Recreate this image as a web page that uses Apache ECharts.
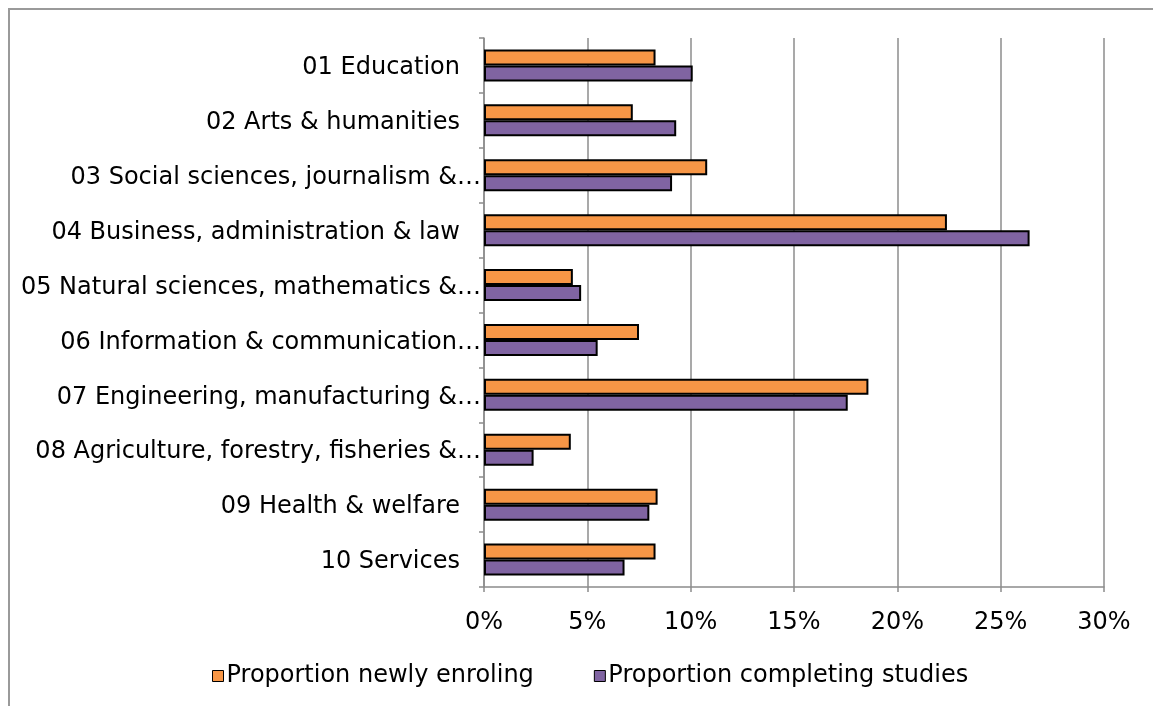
<!DOCTYPE html>
<html>
<head>
<meta charset="utf-8">
<script src="https://cdn.jsdelivr.net/npm/echarts@6/dist/echarts.min.js"></script>
<style>
html,body{margin:0;padding:0;background:#fff;}
#chart{width:1153px;height:706px;}
</style>
</head>
<body>
<div id="chart"></div>
<script>
const categories = [
  "01 Education",
  "02 Arts & humanities",
  "03 Social sciences, journalism &\u2026",
  "04 Business, administration & law",
  "05 Natural sciences, mathematics &\u2026",
  "06 Information & communication\u2026",
  "07 Engineering, manufacturing &\u2026",
  "08 Agriculture, forestry, fisheries &\u2026",
  "09 Health & welfare",
  "10 Services"
];
const newlyEnroling = [8.3, 7.2, 10.8, 22.4, 4.3, 7.5, 18.6, 4.2, 8.4, 8.3];
const completingStudies = [10.1, 9.3, 9.1, 26.4, 4.7, 5.5, 17.6, 2.4, 8.0, 6.8];
const seriesNames = ["Proportion newly enroling", "Proportion completing studies"];
const xTicks = { min: 0, max: 30, interval: 5 };

const FONT = "DejaVu Sans";
const FS = 24;
const chart = echarts.init(document.getElementById('chart'), null, { renderer: 'canvas' });
chart.setOption({
  backgroundColor: '#fff',
  animation: false,
  graphic: [{
    type: 'rect', shape: { x: 9, y: 9, width: 1200, height: 800 },
    style: { fill: 'none', stroke: '#9a9a9a', lineWidth: 2 }, silent: true, z: -1
  }],
  grid: { left: 484, top: 38, right: 49, bottom: 119, containLabel: false },
  legend: {
    data: seriesNames,
    left: 207, top: 659,
    icon: 'rect', itemWidth: 11, itemHeight: 11, itemGap: 60,
    textStyle: { fontFamily: FONT, fontSize: FS, color: '#000', padding: [0,0,0,-2] },
    itemStyle: { borderColor: '#000', borderWidth: 1 }
  },
  xAxis: {
    type: 'value', min: xTicks.min, max: xTicks.max, interval: xTicks.interval,
    axisLine: { show: true, lineStyle: { color: '#8c8c8c', width: 1.5 } },
    axisTick: { show: true, length: 5, lineStyle: { color: '#8c8c8c', width: 1.5 } },
    axisLabel: { formatter: '{value}%', fontFamily: FONT, fontSize: FS, color: '#000', margin: 24 },
    splitLine: { show: true, lineStyle: { color: '#8c8c8c', width: 1.5 } }
  },
  yAxis: {
    type: 'category', data: categories, inverse: true,
    axisLine: { show: true, lineStyle: { color: '#8c8c8c', width: 1.5 } },
    axisTick: { show: true, length: 5, lineStyle: { color: '#8c8c8c', width: 1.5 } },
    axisLabel: {
      fontFamily: FONT, fontSize: FS, color: '#000', margin: 3,
      formatter: function (v) { return v.endsWith('\u2026') ? '{q|' + v + '}' : '{p|' + v + '}'; },
      rich: {
        p: { fontFamily: FONT, fontSize: FS, color: '#000', padding: [5, 21, 0, 0] },
        q: { fontFamily: FONT, fontSize: FS, color: '#000', padding: [5, 0, 0, 0] }
      }
    }
  },
  series: [
    { name: seriesNames[0], type: 'bar', data: newlyEnroling, barWidth: 16, barGap: '0%',
      itemStyle: { color: '#F79646', borderColor: '#000', borderWidth: 2 } },
    { name: seriesNames[1], type: 'bar', data: completingStudies, barWidth: 16, barGap: '0%',
      itemStyle: { color: '#8064A2', borderColor: '#000', borderWidth: 2 } }
  ]
});
</script>
</body>
</html>
